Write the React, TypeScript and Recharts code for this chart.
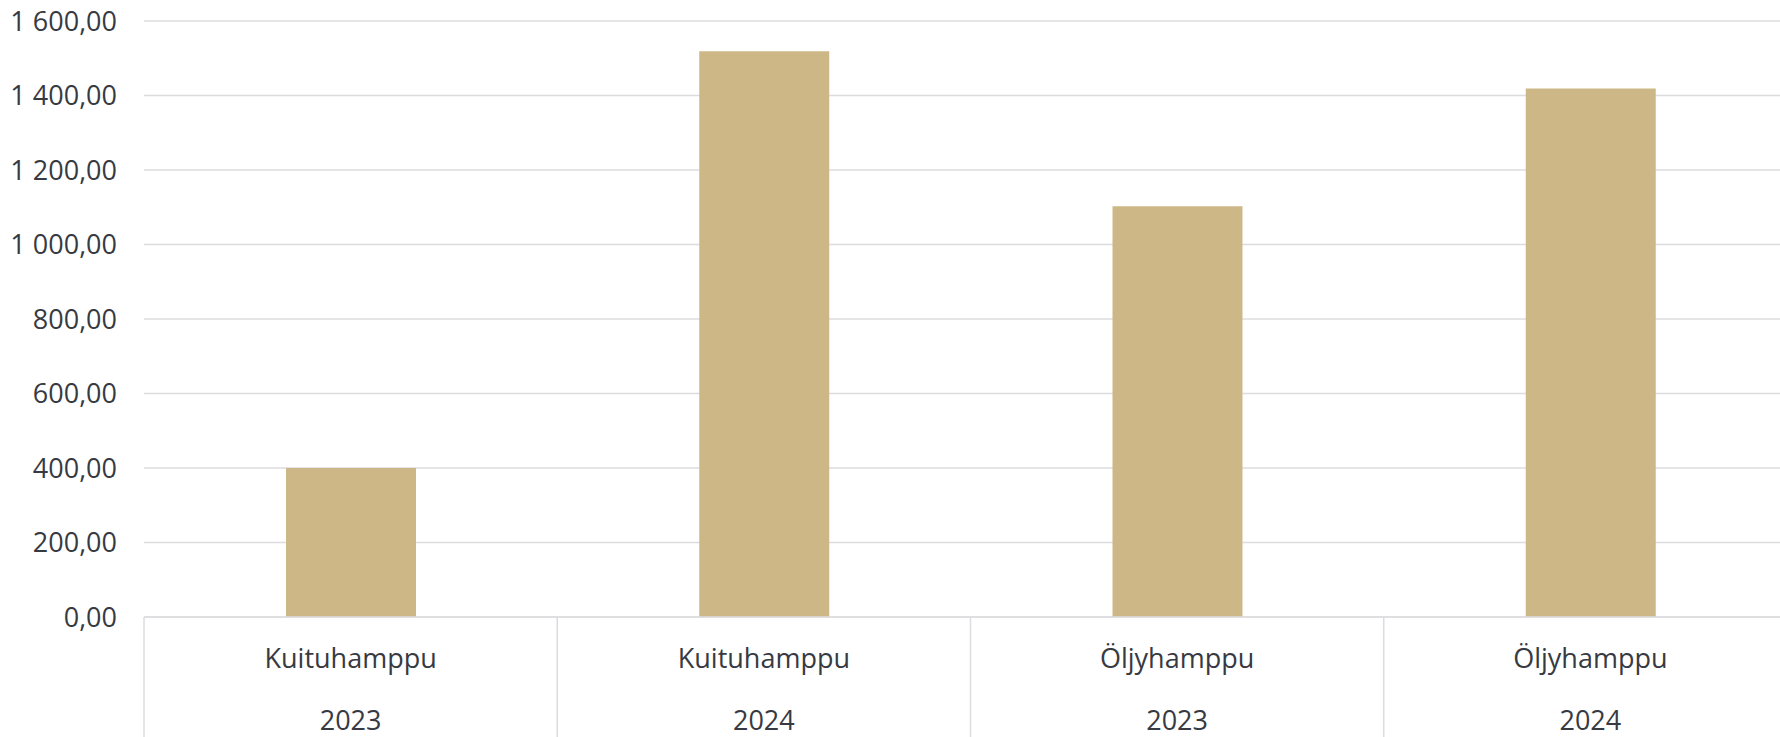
import React from 'react';
import { BarChart, Bar, XAxis, YAxis, CartesianGrid } from 'recharts';

// hemp types, years and values
const products = ['Kuituhamppu', 'Kuituhamppu', 'Öljyhamppu', 'Öljyhamppu'];
const years = ['2023', '2024', '2023', '2024'];
const values = [400, 1519, 1103, 1419];
const yTicks = [0, 200, 400, 600, 800, 1000, 1200, 1400, 1600];

const data = products.map((p, i) => ({ key: `${p}-${years[i]}`, product: p, year: years[i], value: values[i] }));

const CHART_W = 1797;
const CHART_H = 737;
const Y_AXIS_W = 144;
const X_AXIS_H = 120;
const BAND = (CHART_W - Y_AXIS_W) / products.length;

const TEXT = '#373a42';
const LINE = '#dcdce0';
const FONT = '"Open Sans", sans-serif';

// finnish style: "1 600,00"
const fmt = (v: number) => {
  const [int, dec] = v.toFixed(2).split('.');
  return int.replace(/\B(?=(\d{3})+(?!\d))/g, ' ') + ',' + dec;
};

const CategoryTick = (props: any) => {
  const { x, y, index } = props;
  const d = data[index];
  if (!d) return null;
  const left = x - BAND / 2;
  const right = x + BAND / 2;
  return (
    <g>
      <line x1={left} x2={left} y1={y} y2={y + X_AXIS_H} stroke={LINE} strokeWidth={1.5} />
      {index === data.length - 1 && (
        <line x1={right} x2={right} y1={y} y2={y + X_AXIS_H} stroke={LINE} strokeWidth={1.5} />
      )}
      <text x={x} y={y + 51} textAnchor="middle" fill={TEXT} fontSize={27} fontFamily={FONT}>
        {d.product}
      </text>
      <text x={x} y={y + 113} textAnchor="middle" fill={TEXT} fontSize={27} fontFamily={FONT}>
        {d.year}
      </text>
    </g>
  );
};

export default function App() {
  return (
    <div style={{ width: 1780, height: 737, overflow: 'hidden', background: '#fff' }}>
      <style>{'body { margin: 0; }'}</style>
      <BarChart
        width={CHART_W}
        height={CHART_H}
        data={data}
        margin={{ top: 21, right: 0, left: 0, bottom: 0 }}
      >
        <CartesianGrid vertical={false} stroke={LINE} strokeWidth={1.5} />
        <XAxis
          dataKey="key"
          height={X_AXIS_H}
          interval={0}
          tickLine={false}
          tickSize={0}
          tickMargin={0}
          axisLine={{ stroke: LINE, strokeWidth: 1.5 }}
          tick={<CategoryTick />}
        />
        <YAxis
          width={Y_AXIS_W}
          domain={[0, 1600]}
          ticks={yTicks}
          tickFormatter={fmt}
          axisLine={false}
          tickLine={false}
          tickSize={0}
          tickMargin={27}
          tick={{ fill: TEXT, fontSize: 27, fontFamily: FONT }}
        />
        <Bar dataKey="value" fill="#cdb787" barSize={130} isAnimationActive={false} />
      </BarChart>
    </div>
  );
}
